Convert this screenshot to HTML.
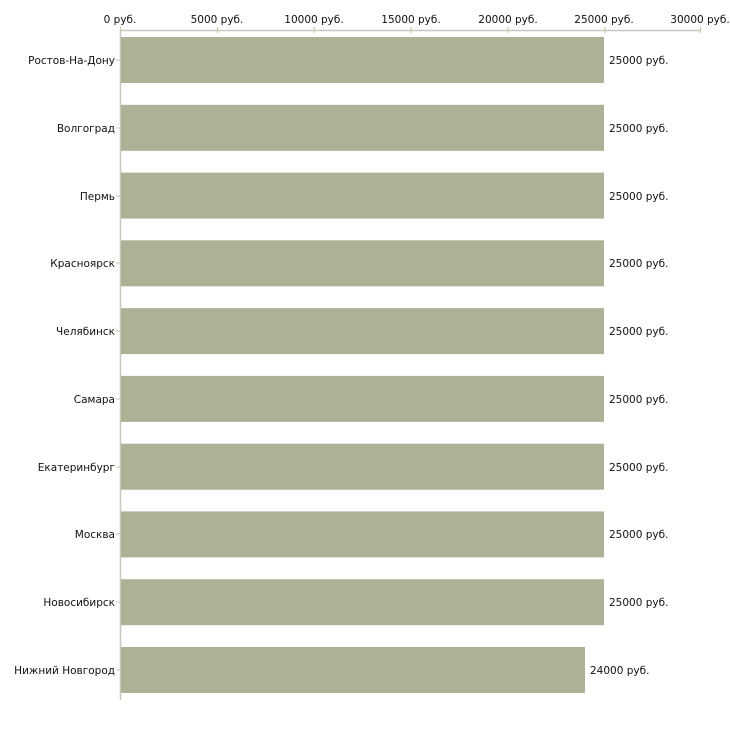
<!DOCTYPE html>
<html><head><meta charset="utf-8"><style>
body{margin:0;background:#fff;width:730px;height:730px;overflow:hidden}
svg text{font-family:"DejaVu Sans","Liberation Sans",sans-serif;font-size:10.5px;fill:#111}
</style></head><body>
<svg width="730" height="730" xmlns="http://www.w3.org/2000/svg">
<line x1="120" y1="30.5" x2="701" y2="30.5" stroke="#c8c8bc" stroke-width="1.5"/>
<line x1="120.5" y1="30" x2="120.5" y2="700" stroke="#c8c8bc" stroke-width="1.5"/>
<g stroke="#c8c8a8" stroke-width="1.2">
<line x1="120.5" y1="27" x2="120.5" y2="33"/>
<line x1="217.4" y1="27" x2="217.4" y2="33"/>
<line x1="314.3" y1="27" x2="314.3" y2="33"/>
<line x1="411.1" y1="27" x2="411.1" y2="33"/>
<line x1="508" y1="27" x2="508" y2="33"/>
<line x1="604.9" y1="27" x2="604.9" y2="33"/>
<line x1="700.5" y1="27" x2="700.5" y2="33"/>
</g>
<g text-anchor="middle">
<text x="120" y="23">0 руб.</text>
<text x="217" y="23">5000 руб.</text>
<text x="314" y="23">10000 руб.</text>
<text x="411" y="23">15000 руб.</text>
<text x="508" y="23">20000 руб.</text>
<text x="604" y="23">25000 руб.</text>
<text x="700" y="23">30000 руб.</text>
</g>
<g fill="#acb296">
<rect x="121" y="37" width="483" height="46"/>
<rect x="121" y="104.8" width="483" height="46"/>
<rect x="121" y="172.6" width="483" height="46"/>
<rect x="121" y="240.3" width="483" height="46"/>
<rect x="121" y="308.1" width="483" height="46"/>
<rect x="121" y="375.9" width="483" height="46"/>
<rect x="121" y="443.7" width="483" height="46"/>
<rect x="121" y="511.4" width="483" height="46"/>
<rect x="121" y="579.2" width="483" height="46"/>
<rect x="121" y="647" width="464" height="46"/>
</g>
<g stroke="#c8c8a8" stroke-width="1">
<line x1="116" y1="60" x2="120" y2="60"/><line x1="116" y1="128" x2="120" y2="128"/><line x1="116" y1="196" x2="120" y2="196"/><line x1="116" y1="263" x2="120" y2="263"/><line x1="116" y1="331" x2="120" y2="331"/><line x1="116" y1="399" x2="120" y2="399"/><line x1="116" y1="467" x2="120" y2="467"/><line x1="116" y1="534" x2="120" y2="534"/><line x1="116" y1="602" x2="120" y2="602"/><line x1="116" y1="670" x2="120" y2="670"/>
</g>
<g text-anchor="end">
<text x="115" y="64">Ростов-На-Дону</text>
<text x="115" y="132">Волгоград</text>
<text x="115" y="200">Пермь</text>
<text x="115" y="267">Красноярск</text>
<text x="115" y="335">Челябинск</text>
<text x="115" y="403">Самара</text>
<text x="115" y="471">Екатеринбург</text>
<text x="115" y="538">Москва</text>
<text x="115" y="606">Новосибирск</text>
<text x="115" y="674">Нижний Новгород</text>
</g>
<g>
<text x="609" y="64">25000 руб.</text>
<text x="609" y="132">25000 руб.</text>
<text x="609" y="200">25000 руб.</text>
<text x="609" y="267">25000 руб.</text>
<text x="609" y="335">25000 руб.</text>
<text x="609" y="403">25000 руб.</text>
<text x="609" y="471">25000 руб.</text>
<text x="609" y="538">25000 руб.</text>
<text x="609" y="606">25000 руб.</text>
<text x="590" y="674">24000 руб.</text>
</g>
</svg>
</body></html>
